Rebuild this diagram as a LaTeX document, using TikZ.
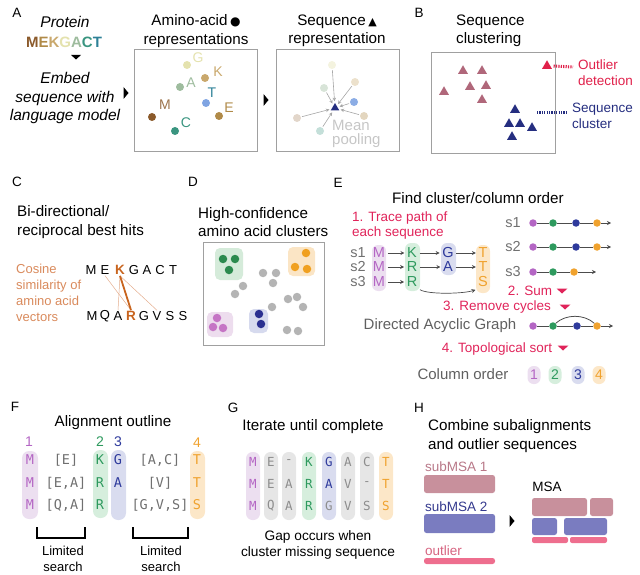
\documentclass[tikz,border=0pt]{standalone}
\usepackage{fontspec}
\setmainfont{Liberation Sans}
\setmonofont{DejaVu Sans Mono}
\newfontfamily\symf{DejaVu Sans}
\usetikzlibrary{shapes.geometric,arrows.meta}
\definecolor{frameg}{HTML}{A0A0A0}
\definecolor{cM}{HTML}{8B5A2B}
\definecolor{cE}{HTML}{B08A48}
\definecolor{cK}{HTML}{C9A86C}
\definecolor{cG}{HTML}{E4E2AE}
\definecolor{cA}{HTML}{9EBC9E}
\definecolor{cC}{HTML}{3A9580}
\definecolor{cT}{HTML}{2E8197}
\definecolor{cTd}{HTML}{7FA4E2}
\definecolor{navy}{HTML}{252E80}
\definecolor{mauve}{HTML}{B0677A}
\definecolor{outred}{HTML}{E0204A}
\definecolor{cosor}{HTML}{D98A5C}
\definecolor{kor}{HTML}{C8641E}
\definecolor{pur}{HTML}{B466C4}
\definecolor{purF}{HTML}{ECDFF0}
\definecolor{grn}{HTML}{2E9A5E}
\definecolor{grnF}{HTML}{D6EEDD}
\definecolor{blu}{HTML}{2E3A9C}
\definecolor{bluF}{HTML}{D9DCEF}
\definecolor{org}{HTML}{F0A22E}
\definecolor{orgF}{HTML}{FCE7C8}
\definecolor{gryF}{HTML}{E6E6E6}
\definecolor{gryT}{HTML}{707070}
\definecolor{dotg}{HTML}{B4B4B4}
\definecolor{crim}{HTML}{E0245A}
\definecolor{msaM}{HTML}{C8909C}
\definecolor{msaB}{HTML}{7A7CC0}
\definecolor{msaP}{HTML}{EE6E8E}
\definecolor{msaMT}{HTML}{B87888}
\definecolor{msaBT}{HTML}{353A8E}
\definecolor{dgrn}{HTML}{2B8A4E}
\definecolor{dgrnF}{HTML}{D5EBDA}
\definecolor{dorg}{HTML}{F0A020}
\definecolor{dorgF}{HTML}{FBE5C5}
\definecolor{dpur}{HTML}{C575C5}
\definecolor{dpurF}{HTML}{EDDDEE}
\definecolor{dblu}{HTML}{2A3090}
\definecolor{dbluF}{HTML}{D6DAEE}
\begin{document}
\begin{tikzpicture}[x=1pt,y=-1pt,
  panel/.style={font=\fontsize{13.5}{15}\selectfont, inner sep=0},
  ttl/.style={font=\fontsize{15.2}{18.5}\selectfont, align=center, inner sep=0},
  ttll/.style={font=\fontsize{15.2}{18.5}\selectfont, align=left, inner sep=0, anchor=west},
  frm/.style={draw=frameg, line width=0.8},
  adot/.style={circle, fill=#1, inner sep=0, minimum size=8},
  alab/.style={text=#1, font=\fontsize{14}{14}\selectfont, inner sep=0},
  pdot/.style={circle, fill=#1, inner sep=0, minimum size=8},
  parr/.style={-{Stealth[length=3.5,width=3.5]}, draw=gray!70, line width=0.6, shorten >=2, shorten <=1},
  utri/.style={regular polygon, regular polygon sides=3, fill=#1, inner sep=0, minimum size=11.5},
  clet/.style={font=\fontsize{13}{13}\selectfont, inner sep=1},
  ddot/.style={circle, fill=#1, inner sep=0, minimum size=8.5},
  eL/.style={text=#1, font=\fontsize{14.5}{14.5}\selectfont, inner sep=2.5},
  arr/.style={-{Stealth[length=4,width=4]}, draw=gray!60!black, line width=0.7},
  edot/.style={circle, fill=#1, inner sep=0, minimum size=7.5},
  eline/.style={draw=gray!60!black, line width=1},
  redt/.style={text=crim, font=\fontsize{13.5}{15}\selectfont, inner sep=0},
  pill/.style={fill=#1, rounded corners=6},
  fL/.style={text=#1, font=\ttfamily\fontsize{13.5}{13.5}\selectfont, inner sep=0},
  gL/.style={text=#1, font=\ttfamily\fontsize{12.5}{12.5}\selectfont, inner sep=0},
  onum/.style={text=#1, font=\fontsize{14}{14}\selectfont, inner sep=0}
]
\useasboundingbox (0,0) rectangle (640,575);

% ================= Panel A =================
\node[panel] (lA) at (17,13) {A};
\node[ttl, font=\itshape\fontsize{15.5}{18.5}\selectfont] (prot) at (65,22) {Protein};
\node[inner sep=0, font=\bfseries\fontsize{15}{15}\selectfont] (seq) at (64,42)
  {\textcolor{cM}{M}\textcolor{cE}{E}\textcolor{cK}{K}\textcolor{cG}{G}\textcolor{cA}{A}\textcolor{cC}{C}\textcolor{cT}{T}};
\fill[shift={(76,57)}] (-5,-2) -- (5,-2) -- (0,2.5) -- cycle;
\node[ttl, font=\itshape\fontsize{15.5}{18.5}\selectfont] (emb) at (65,98) {Embed\\sequence with\\language model};
\fill[shift={(126,93)}] (-2.5,-6) -- (2.5,0) -- (-2.5,6) -- cycle;
\draw[frm] (134,49) rectangle (257,151);
\node[ttl] (t1) at (196,31) {Amino-acid\,{\symf\fontsize{12}{12}\selectfont ●}\\representations};
\node[adot=cG] (dG) at (187,65) {};  \node[alab=cG] at (198,58) {G};
\node[adot=cK] (dK) at (205,78) {};  \node[alab=cK] at (218,72) {K};
\node[adot=cA] (dA) at (180,87) {};  \node[alab=cA] at (191,83) {A};
\node[adot=cTd] (dT) at (206,103) {}; \node[alab=cT] at (212,93) {T};
\node[adot=cM] (dM) at (152,117) {}; \node[alab=cM!85] at (165,105) {M};
\node[adot=cE] (dE) at (219,116) {}; \node[alab=cE] at (229,108) {E};
\node[adot=cC] (dC) at (175,131) {}; \node[alab=cC] at (186,123) {C};
\fill[shift={(266,100)}] (-2.5,-6) -- (2.5,0) -- (-2.5,6) -- cycle;
\draw[frm] (276,49) rectangle (399,151);
\node[ttl] (t2) at (337,31) {Sequence\,{\symf\fontsize{11}{11}\selectfont ▲}\\representation};
\node[utri=navy, minimum size=10] (mp) at (335,108) {};
\node[pdot=cG!40] (qG) at (332,65) {};
\node[pdot=cK!35] (qK) at (355,82) {};
\node[pdot=cA!40] (qA) at (324,88) {};
\node[pdot=cTd!90] (qT) at (354,102) {};
\node[pdot=cE!35] (qE) at (364,116) {};
\node[pdot=cM!25] (qM) at (297,118) {};
\node[pdot=cC!30] (qC) at (320,131) {};
\foreach \d in {qG,qK,qA,qT,qE,qM,qC} \draw[parr] (\d) -- (mp);
\node[inner sep=0, align=left, anchor=west, text=gray!45, font=\fontsize{15}{14}\selectfont] (mpl) at (332,134) {Mean\\pooling};

% ================= Panel B =================
\node[panel] (lB) at (419,13) {B};
\node[ttll] (tb) at (456,31) {Sequence\\clustering};
\draw[frm] (431,52) rectangle (555,153);
\foreach \p in {(463,71),(482,71),(444,92),(470,87),(486,86),(482,100)}
  \node[utri=mauve] at \p {};
\foreach \p in {(515,110),(509,124),(520,124),(532,128),(512,137)}
  \node[utri=navy] at \p {};
\node[utri=outred] (out) at (547,66) {};
\coordinate (oe) at (573,67);
\draw[outred, line width=3, dash pattern=on 1.2pt off 1.2pt] (out.east) ++(3,0) -- (oe);
\node[inner sep=0, align=left, anchor=west, text=outred, font=\fontsize{13.5}{16}\selectfont] (otx) at (578,73) {Outlier\\detection};
\coordinate (cs) at (537,113);
\coordinate (ce) at (567,113);
\draw[navy, line width=3, dash pattern=on 1.2pt off 1.2pt] (cs) -- (ce);
\node[inner sep=0, align=left, anchor=west, text=navy, font=\fontsize{13.5}{16}\selectfont] (ctx) at (572,116) {Sequence\\cluster};

% ================= Panel C =================
\node[panel] (lC) at (17,182) {C};
\node[ttll] (tc) at (17,222) {Bi-directional/\\reciprocal best hits};
\node[inner sep=0, align=left, anchor=west, text=cosor, font=\fontsize{13}{16}\selectfont] (cos) at (16,293) {Cosine\\similarity of\\amino acid\\vectors};
\node[clet] (tM) at (91,270) {M};
\node[clet] (tE) at (105,270) {E};
\node[clet, text=kor, font=\bfseries\fontsize{13.5}{13.5}\selectfont] (tK) at (120,270) {K};
\node[clet] (tG) at (134,270) {G};
\node[clet] (tA) at (147,270) {A};
\node[clet] (tC) at (160,270) {C};
\node[clet] (tT) at (173,270) {T};
\node[clet] (bM) at (92,316) {M};
\node[clet] (bQ) at (105,316) {Q};
\node[clet] (bA) at (118,316) {A};
\node[clet, text=kor, font=\bfseries\fontsize{13.5}{13.5}\selectfont] (bR) at (131,316) {R};
\node[clet] (bG) at (144,316) {G};
\node[clet] (bV) at (157,316) {V};
\node[clet] (bS) at (170,316) {S};
\node[clet] (bS2) at (183,316) {S};
\draw[cosor!70, line width=0.5] (tK.south) -- (bA.north);
\draw[cosor!70, line width=0.5] (tE.south) -- (bR.north);
\draw[cosor!70, line width=0.5] (tK.south) -- (bV.north);
\draw[kor, line width=1.8] (tK.south) -- (bR.north);

% ================= Panel D =================
\node[panel] (lD) at (193,182) {D};
\node[ttll] (td) at (198,222) {High-confidence\\amino acid clusters};
\draw[frm] (203,242) rectangle (324,345);
\fill[dgrnF, rounded corners=5] (215,248) rectangle (243,280);
\fill[dorgF, rounded corners=5] (288,247) rectangle (315,276);
\fill[dpurF, rounded corners=5] (207,312) rectangle (233,337);
\fill[dbluF, rounded corners=5] (249,309) rectangle (268,333);
\foreach \p in {(223,259),(235,259),(229,270)} \node[ddot=dgrn] at \p {};
\foreach \p in {(306,253),(295,267),(307,269)} \node[ddot=dorg] at \p {};
\foreach \p in {(217,318),(213,327),(223,328)} \node[ddot=dpur] at \p {};
\foreach \p in {(259,314),(261,324)} \node[ddot=dblu] at \p {};
\foreach \p in {(263,273),(276,273),(273,283),(243,286),(235,294),(288,299),(297,297),(303,307),(272,307),(287,330),(298,331)}
  \node[ddot=dotg] at \p {};

% ================= Panel E =================
\node[panel] (lE) at (338,183) {E};
\node[ttll] (te) at (392,198) {Find cluster/column order};
\node[redt, align=left, anchor=west] (tr) at (352,226) {1. Trace path of\\each sequence};
\fill[purF, rounded corners=6] (372,245) rectangle (386,291);
\fill[grnF, rounded corners=6] (405,243) rectangle (420,291);
\fill[bluF, rounded corners=6] (441,243) rectangle (456,275);
\fill[orgF, rounded corners=6] (476,245) rectangle (490,293);
\foreach \i/\y in {1/253,2/267,3/282}{
  \node[eL=gryT, inner sep=0] (s\i) at (358,\y) {s\i};
  \node[eL=pur] (m\i) at (379,\y) {M};
}
\node[eL=grn] (k1) at (412,253) {K};
\node[eL=grn] (k2) at (412,267) {R};
\node[eL=grn] (k3) at (412,282) {R};
\node[eL=blu] (g1) at (448,253) {G};
\node[eL=blu] (g2) at (448,267) {A};
\node[eL=org] (o1) at (483,253) {T};
\node[eL=org] (o2) at (483,267) {T};
\node[eL=org] (o3) at (483,282) {S};
\foreach \i in {1,2,3} \draw[arr] (m\i) -- (k\i);
\draw[arr] (k1) -- (g1); \draw[arr] (k2) -- (g2);
\draw[arr] (g1) -- (o1); \draw[arr] (g2) -- (o2);
\draw[arr] (k3.south east) .. controls +(8,5) and +(-12,4) .. (o3.south west);
% right side paths
\foreach \i/\y in {1/223,2/247}{
  \node[eL=gryT, inner sep=0] (r\i) at (513,\y) {s\i};
  \node[edot=pur] (rp\i) at (533,\y) {};
  \node[edot=grn] (rg\i) at (553,\y) {};
  \node[edot=blu] (rb\i) at (576,\y) {};
  \node[edot=org] (ro\i) at (597,\y) {};
  \coordinate (re\i) at (611,\y);
  \draw[eline] (rp\i) -- (rg\i) -- (rb\i) -- (ro\i);
  \draw[arr, line width=1] (ro\i) -- (re\i);
}
\node[eL=gryT, inner sep=0] (r3) at (513,272) {s3};
\node[edot=pur] (rp3) at (533,272) {};
\node[edot=grn] (rg3) at (553,272) {};
\node[edot=org] (ro3) at (574,272) {};
\coordinate (re3) at (596,272);
\draw[eline] (rp3) -- (rg3) -- (ro3);
\draw[arr, line width=1] (ro3) -- (re3);
\node[redt] (sum) at (530,291) {2. Sum};
\fill[crim, shift={(562,291)}] (-5.5,-2.5) -- (5.5,-2.5) -- (0,2.5) -- cycle;
\node[redt] (rmc) at (497,307) {3. Remove cycles};
\fill[crim, shift={(565,307)}] (-5.5,-2.5) -- (5.5,-2.5) -- (0,2.5) -- cycle;
\node[inner sep=0, text=gray!75!black, font=\fontsize{15}{15}\selectfont] (dag) at (440,326) {Directed Acyclic Graph};
\node[edot=pur] (dp) at (533,326) {};
\node[edot=grn] (dg) at (553,326) {};
\node[edot=blu] (db) at (577,326) {};
\node[edot=org] (do) at (597,326) {};
\coordinate (de) at (613,326);
\draw[eline] (dp) -- (dg) -- (db) -- (do);
\draw[arr, line width=1] (do) -- (de);
\draw[eline, line width=0.8] (dg.north east) .. controls (566,314) and (584,314) .. (do.north west);
\node[redt] (tps) at (497,349) {4. Topological sort};
\fill[crim, shift={(563,348)}] (-5.5,-2.5) -- (5.5,-2.5) -- (0,2.5) -- cycle;
\node[inner sep=0, text=gray!75!black, font=\fontsize{15}{15}\selectfont] (co) at (463,374) {Column order};
\node[pill=purF, minimum width=13, minimum height=18, inner sep=0, onum=pur, rounded corners=6] (c1) at (534,375) {1};
\node[pill=grnF, minimum width=13, minimum height=18, inner sep=0, onum=grn, rounded corners=6] (c2) at (555,375) {2};
\node[pill=bluF, minimum width=13, minimum height=18, inner sep=0, onum=blu, rounded corners=6] (c3) at (578,375) {3};
\node[pill=orgF, minimum width=13, minimum height=18, inner sep=0, onum=org, rounded corners=6] (c4) at (599,375) {4};

% ================= Panel F =================
\node[panel] (lF) at (15,407) {F};
\node[ttl] (tf) at (113,423) {Alignment outline};
\node[onum=pur] (n1) at (29,442) {1};
\node[onum=grn] (n2) at (100,442) {2};
\node[onum=blu] (n3) at (118,442) {3};
\node[onum=org] (n4) at (197,443) {4};
\fill[purF, rounded corners=7] (22,451) rectangle (38,519);
\fill[grnF, rounded corners=7] (93,450) rectangle (108,518);
\fill[bluF, rounded corners=7] (111,450) rectangle (126,520);
\fill[orgF, rounded corners=7] (190,451) rectangle (205,519);
\foreach \y/\k/\s/\a/\b in {460/K/T/[E]/[A{,}C], 483/R/T/[E{,}A]/[V], 505/R/S/[Q{,}A]/[G{,}V{,}S]}{
  \node[fL=pur] at (30,\y) {M};
  \node[fL=grn] at (100,\y) {\k};
  \node[fL=org] at (197,\y) {\s};
  \node[fL=gryT] at (66,\y) {\a};
  \node[fL=gryT] at (160,\y) {\b};
}
\node[fL=blu] at (118,460) {G};
\node[fL=blu] at (118,483) {A};
\draw[line width=1.4] (37,527) -- (37,538) -- (85,538) -- (85,527);
\draw[line width=1.4] (133,527) -- (133,538) -- (188,538) -- (188,527);
\node[inner sep=0, align=center, font=\fontsize{13}{15.5}\selectfont] (ls1) at (63,559) {Limited\\search};
\node[inner sep=0, align=center, font=\fontsize{13}{15.5}\selectfont] (ls2) at (161,559) {Limited\\search};

% ================= Panel G =================
\node[panel] (lG) at (233,408) {G};
\node[ttl] (tg) at (313,427) {Iterate until complete};
\foreach \x/\c in {253/purF,271/gryF,289/gryF,309/grnF,329/bluF,348/gryF,367/gryF,386/orgF}
  \fill[\c, rounded corners=6.5] (\x-7,452) rectangle (\x+7,520);
\foreach \x/\c/\a/\b/\d in {253/pur/M/M/M, 271/gryT!80/E/E/Q, 289/gryT!80/-/A/A, 309/grn/K/R/R, 348/gryT!80/A/V/V, 367/gryT!80/C/-/S}{
  \node[gL=\c] at (\x,462) {\a};
  \node[gL=\c] at (\x,484) {\b};
  \node[gL=\c] at (\x,506) {\d};
}
\node[gL=blu] at (329,462) {G};
\node[gL=blu] at (329,484) {A};
\node[gL=gryT!80] at (329,506) {G};
\node[gL=org] at (386,462) {T};
\node[gL=org] at (386,484) {T};
\node[gL=org] at (386,506) {S};
\node[inner sep=0, align=center, font=\fontsize{13.7}{15.5}\selectfont] (gap) at (318,545) {Gap occurs when\\cluster missing sequence};

% ================= Panel H =================
\node[panel] (lH) at (419,408) {H};
\node[ttll] (th) at (428,436) {Combine subalignments\\and outlier sequences};
\node[inner sep=0, anchor=west, text=msaMT, font=\fontsize{13.5}{13.5}\selectfont] (s1t) at (425,467) {subMSA 1};
\fill[msaM, rounded corners=2.5] (424,475) rectangle (495,493);
\node[inner sep=0, anchor=west, text=msaBT, font=\fontsize{13.5}{13.5}\selectfont] (s2t) at (425,507) {subMSA 2};
\fill[msaB, rounded corners=2.5] (424,514) rectangle (495,533);
\node[inner sep=0, anchor=west, text=msaP!90!black, font=\fontsize{13.5}{13.5}\selectfont] (olt) at (425,551) {outlier};
\fill[msaP, rounded corners=2.5] (424,558) rectangle (495,564);
\fill[shift={(512,521)}] (-2.5,-6) -- (2.5,0) -- (-2.5,6) -- cycle;
\node[inner sep=0, font=\fontsize{13.5}{13.5}\selectfont] (msa) at (547,487) {MSA};
\fill[msaM, rounded corners=2.5] (532,498) rectangle (587,516);
\fill[msaM, rounded corners=2.5] (590,498) rectangle (613,516);
\fill[msaB, rounded corners=2.5] (532,518) rectangle (557,535);
\fill[msaB, rounded corners=2.5] (564,518) rectangle (607,535);
\fill[msaP, rounded corners=2] (532,537) rectangle (568,543);
\fill[msaP, rounded corners=2] (570,537) rectangle (607,543);
\end{tikzpicture}
\end{document}
